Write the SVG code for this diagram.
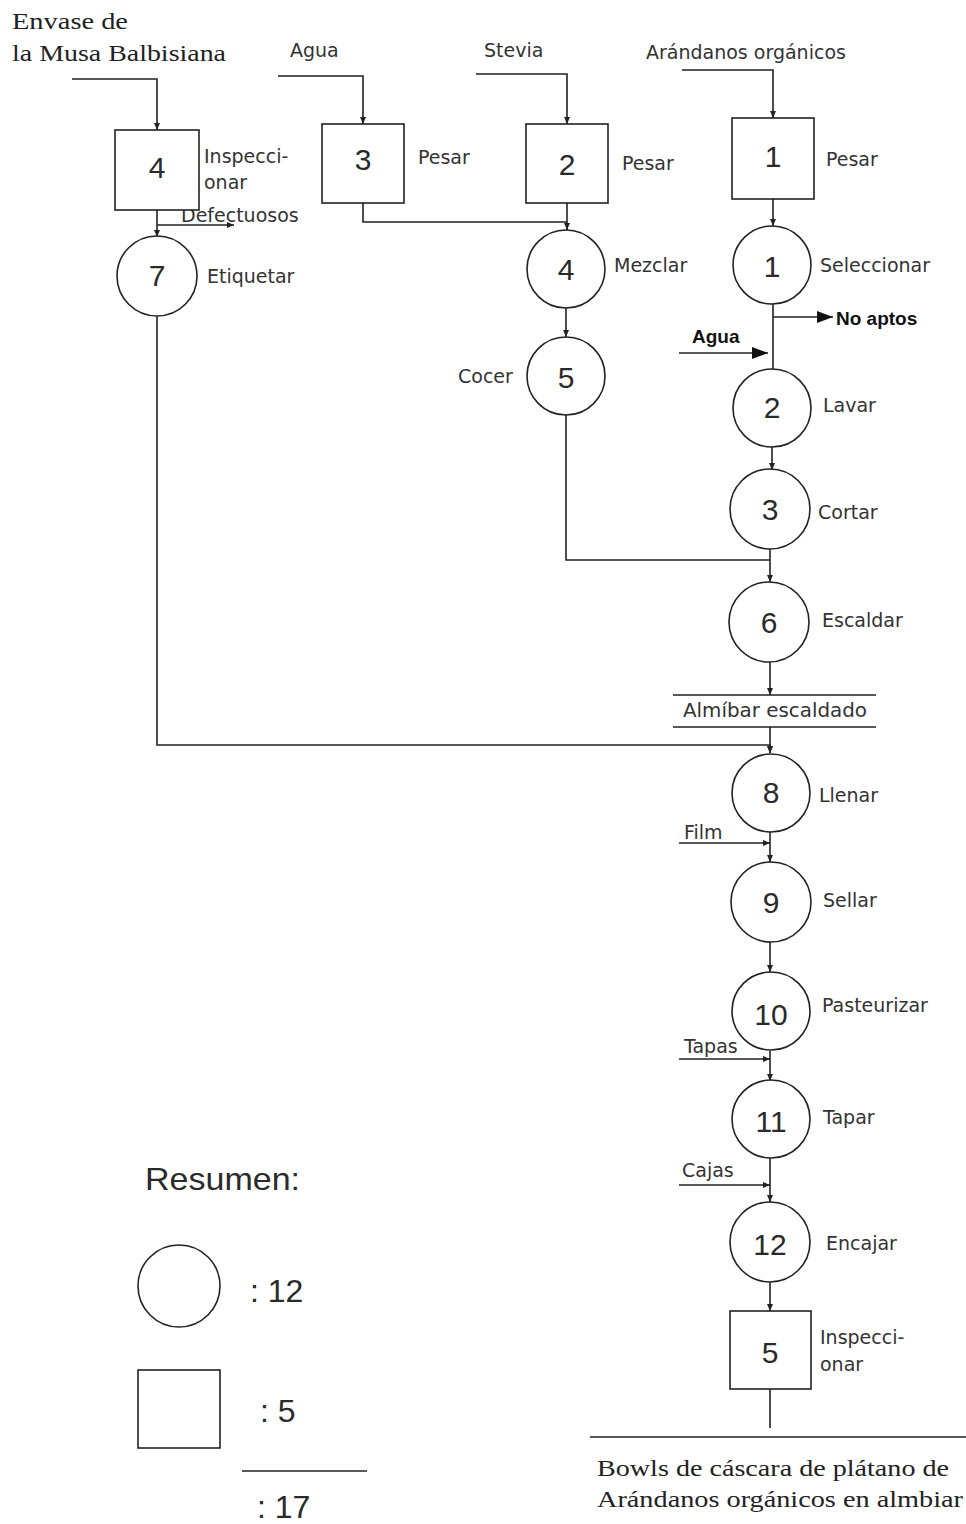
<svg xmlns="http://www.w3.org/2000/svg" width="966" height="1524" viewBox="0 0 966 1524">
<style>
.n{fill:#fff;stroke:#222;stroke-width:1.6}
.c{fill:none;stroke:#222;stroke-width:1.6}
.d{font-family:"Liberation Sans",Arial,sans-serif;font-size:30px;fill:#2a2a2a;text-anchor:middle}
.l{font-family:"DejaVu Sans",sans-serif;font-size:19px;fill:#333}
.b{font-family:"Liberation Sans",Arial,sans-serif;font-size:19px;font-weight:bold;fill:#111}
.s{font-family:"Liberation Serif","Times New Roman",serif;font-size:24px;fill:#222}
.r{font-family:"Liberation Sans",Arial,sans-serif;font-size:32px;fill:#2a2a2a}
</style>
<defs>
<marker id="a" markerUnits="userSpaceOnUse" markerWidth="7" markerHeight="6" refX="7" refY="3" orient="auto"><path d="M0,0 L7,3 L0,6 z" fill="#222"/></marker>
<marker id="A" markerUnits="userSpaceOnUse" markerWidth="16" markerHeight="12" refX="16" refY="6" orient="auto"><path d="M0,0 L16,6 L0,12 z" fill="#111"/></marker>
</defs>
<rect width="966" height="1524" fill="#fff"/>

<g id="connectors">
<path class="c" d="M72,79 H157 V130" marker-end="url(#a)"/>
<path class="c" d="M157,210 V237" marker-end="url(#a)"/>
<path class="c" d="M157,225 H234" marker-end="url(#a)"/>
<path class="c" d="M157,316 V745 H770 V753" marker-end="url(#a)"/>
<path class="c" d="M278,76 H363 V124" marker-end="url(#a)"/>
<path class="c" d="M476,74 H567 V124" marker-end="url(#a)"/>
<path class="c" d="M363,203 V222 H567"/>
<path class="c" d="M567,203 V230" marker-end="url(#a)"/>
<path class="c" d="M566,308 V337" marker-end="url(#a)"/>
<path class="c" d="M566,415 V560 H770"/>
<path class="c" d="M682,70 H773 V118" marker-end="url(#a)"/>
<path class="c" d="M773,199 V226" marker-end="url(#a)"/>
<path class="c" d="M773,304 V369"/>
<path class="c" d="M773,317 H833" marker-end="url(#A)"/>
<path class="c" d="M679,353 H768" marker-end="url(#A)"/>
<path class="c" d="M772,447 V470" marker-end="url(#a)"/>
<path class="c" d="M770,549 V582" marker-end="url(#a)"/>
<path class="c" d="M770,662 V695" marker-end="url(#a)"/>
<path class="c" d="M673,695 H876 M673,727 H876"/>
<path class="c" d="M770,727 V753" marker-end="url(#a)"/>
<path class="c" d="M770,832 V862" marker-end="url(#a)"/>
<path class="c" d="M679,843 H770" marker-end="url(#a)"/>
<path class="c" d="M770,942 V972" marker-end="url(#a)"/>
<path class="c" d="M770,1051 V1081" marker-end="url(#a)"/>
<path class="c" d="M679,1059 H770" marker-end="url(#a)"/>
<path class="c" d="M770,1158 V1202" marker-end="url(#a)"/>
<path class="c" d="M679,1185 H770" marker-end="url(#a)"/>
<path class="c" d="M770,1282 V1311" marker-end="url(#a)"/>
<path class="c" d="M770,1389 V1428"/>
<path class="c" d="M590,1437 H966"/>
</g>

<g id="inputs">
<text class="s" x="12" y="29" textLength="116" lengthAdjust="spacingAndGlyphs">Envase de</text>
<text class="s" x="12" y="61" textLength="214" lengthAdjust="spacingAndGlyphs">la Musa Balbisiana</text>
<text class="l" x="290" y="57">Agua</text>
<text class="l" x="484" y="57">Stevia</text>
<text class="l" x="646" y="59">Arándanos orgánicos</text>
<text class="l" x="181" y="222">Defectuosos</text>
<text class="b" x="836" y="325">No aptos</text>
<text class="b" x="692" y="343">Agua</text>
<text class="l" x="683" y="717" textLength="184" lengthAdjust="spacingAndGlyphs">Almíbar escaldado</text>
<text class="l" x="684" y="839">Film</text>
<text class="l" x="684" y="1053">Tapas</text>
<text class="l" x="682" y="1177">Cajas</text>
<text class="s" x="597" y="1476" textLength="352" lengthAdjust="spacingAndGlyphs">Bowls de cáscara de plátano de</text>
<text class="s" x="597" y="1507" textLength="366" lengthAdjust="spacingAndGlyphs">Arándanos orgánicos en almbiar</text>
</g>

<g id="box4"><rect class="n" x="115" y="130" width="84" height="80"/><text class="d" x="157" y="178">4</text><text class="l" x="204" y="163">Inspecci-</text><text class="l" x="204" y="189">onar</text></g>
<g id="circle7"><circle class="n" cx="157" cy="276" r="40"/><text class="d" x="157" y="286">7</text><text class="l" x="207" y="283">Etiquetar</text></g>
<g id="box3"><rect class="n" x="322" y="124" width="82" height="79"/><text class="d" x="363" y="170">3</text><text class="l" x="418" y="164">Pesar</text></g>
<g id="box2"><rect class="n" x="526" y="124" width="82" height="79"/><text class="d" x="567" y="175">2</text><text class="l" x="622" y="170">Pesar</text></g>
<g id="circle4"><circle class="n" cx="566" cy="269" r="39"/><text class="d" x="566" y="280">4</text><text class="l" x="614" y="272">Mezclar</text></g>
<g id="circle5"><circle class="n" cx="566" cy="376" r="39"/><text class="d" x="566" y="388">5</text><text class="l" x="458" y="383">Cocer</text></g>
<g id="box1"><rect class="n" x="732" y="118" width="82" height="81"/><text class="d" x="773" y="167">1</text><text class="l" x="826" y="166">Pesar</text></g>
<g id="circle1"><circle class="n" cx="772" cy="265" r="39"/><text class="d" x="772" y="277">1</text><text class="l" x="820" y="272">Seleccionar</text></g>
<g id="circle2"><circle class="n" cx="772" cy="408" r="39"/><text class="d" x="772" y="418">2</text><text class="l" x="823" y="412">Lavar</text></g>
<g id="circle3"><circle class="n" cx="770" cy="509" r="40"/><text class="d" x="770" y="520">3</text><text class="l" x="818" y="519">Cortar</text></g>
<g id="circle6"><circle class="n" cx="769" cy="622" r="40"/><text class="d" x="769" y="633">6</text><text class="l" x="822" y="627">Escaldar</text></g>
<g id="circle8"><circle class="n" cx="771" cy="793" r="39"/><text class="d" x="771" y="803">8</text><text class="l" x="819" y="802">Llenar</text></g>
<g id="circle9"><circle class="n" cx="771" cy="902" r="40"/><text class="d" x="771" y="913">9</text><text class="l" x="823" y="907">Sellar</text></g>
<g id="circle10"><circle class="n" cx="771" cy="1011" r="39"/><text class="d" x="771" y="1025">10</text><text class="l" x="822" y="1012">Pasteurizar</text></g>
<g id="circle11"><circle class="n" cx="771" cy="1119" r="39"/><text class="d" x="771" y="1132">11</text><text class="l" x="823" y="1124">Tapar</text></g>
<g id="circle12"><circle class="n" cx="770" cy="1242" r="40"/><text class="d" x="770" y="1255">12</text><text class="l" x="826" y="1250">Encajar</text></g>
<g id="box5"><rect class="n" x="730" y="1311" width="81" height="78"/><text class="d" x="770" y="1363">5</text><text class="l" x="820" y="1344">Inspecci-</text><text class="l" x="820" y="1371">onar</text></g>

<g id="resumen">
<text class="r" x="145" y="1190" textLength="155" lengthAdjust="spacingAndGlyphs">Resumen:</text>
<circle class="n" cx="179" cy="1286" r="41"/>
<text class="r" x="250" y="1302">: 12</text>
<rect class="n" x="138" y="1370" width="82" height="78"/>
<text class="r" x="260" y="1422">: 5</text>
<path class="c" d="M242,1471 H367"/>
<text class="r" x="257" y="1518">: 17</text>
</g>
</svg>
